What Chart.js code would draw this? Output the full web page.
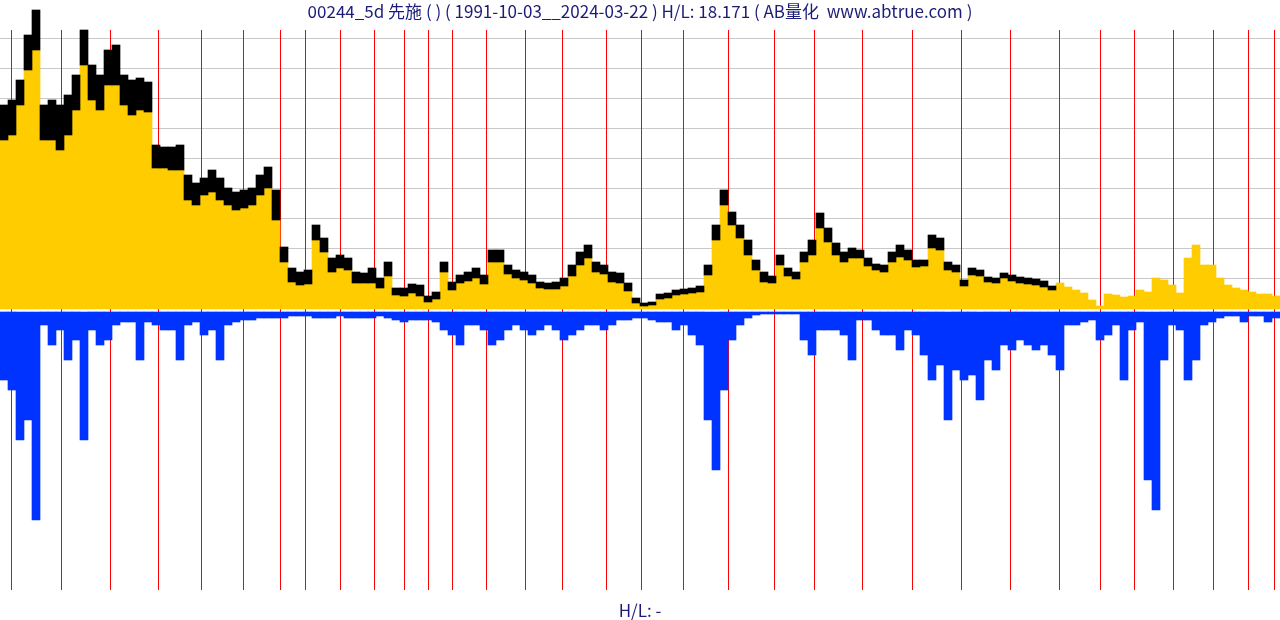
<!DOCTYPE html>
<html>
<head>
<meta charset="utf-8">
<script src="https://cdn.jsdelivr.net/npm/chart.js@4/dist/chart.umd.min.js"></script>
<style>
  html, body { margin: 0; padding: 0; background: #fff; }
  #wrap { position: relative; width: 1280px; height: 620px; overflow: hidden; }
  canvas { position: absolute; left: 0; top: 0; }
  .txt { position: absolute; left: 0; width: 1280px; text-align: center; color: #1c1c78;
         font-family: "Noto Sans CJK SC", "Noto Sans", sans-serif; font-size: 17px; white-space: pre; line-height: 20px; }
</style>
</head>
<body>
<div id="wrap">
  <canvas id="c" width="1280" height="620"></canvas>
  <div class="txt" id="title" style="top:1px;">00244_5d 先施 ( ) ( 1991-10-03__2024-03-22 ) H/L: 18.171 ( AB量化  www.abtrue.com )</div>
  <div class="txt" id="foot" style="top:600px;">H/L: -</div>
</div>
<script>
// ---- data ----
const priceFloor = 0.15;
const gridLevels = [0.46, 0.76, 1.06, 1.36, 1.66, 1.96, 2.26, 2.56, 2.86];
const yearLabels = ['1992','1993','1994','1995','1996','1997','1998','1999','2000','2001','2002','2003','2004','2005','2006','2007','2008','2009','2010','2011','2012','2013','2014','2015','2016','2017','2018','2019','2020','2021','2022','2023','2024'];
const yearStarts = [0.875,7.125,13.25,19.25,24.625,29.875,34.5,37.625,42,46.25,50,53,56,60.25,65.125,69.75,75.25,79.625,84.875,90.5,96.25,101.25,107.25,113.5,119.625,125.75,131.875,137,141.25,146.125,151.125,155.5,158.75];
// lower value of each bar (yellow top): the low where a range exists, the close otherwise
const lows = [
 1.84,1.89,2.19,2.54,2.74,1.84,1.84,1.74,1.89,2.14,
 2.59,2.24,2.14,2.39,2.39,2.19,2.09,2.14,2.12,1.56,
 1.56,1.54,1.54,1.24,1.19,1.29,1.32,1.24,1.19,1.14,
 1.16,1.19,1.29,1.36,1.04,0.62,0.42,0.39,0.40,0.84,
 0.72,0.52,0.56,0.54,0.41,0.41,0.41,0.36,0.48,0.29,
 0.28,0.31,0.28,0.22,0.25,0.52,0.34,0.41,0.43,0.46,
 0.40,0.62,0.62,0.50,0.46,0.44,0.41,0.36,0.35,0.35,
 0.38,0.48,0.59,0.66,0.52,0.50,0.42,0.41,0.33,0.21,
 0.18,0.19,0.25,0.26,0.29,0.30,0.31,0.32,0.49,0.84,
 1.19,0.99,0.86,0.69,0.54,0.42,0.41,0.59,0.48,0.45,
 0.62,0.69,0.96,0.82,0.69,0.62,0.66,0.66,0.58,0.54,
 0.52,0.62,0.67,0.64,0.57,0.58,0.76,0.74,0.54,0.52,
 0.38,0.49,0.48,0.42,0.41,0.46,0.43,0.41,0.40,0.39,
 0.37,0.34,0.41,0.37,0.34,0.31,0.24,0.18,0.30,0.29,
 0.27,0.28,0.34,0.32,0.46,0.44,0.39,0.31,0.66,0.79,
 0.59,0.59,0.46,0.39,0.36,0.34,0.32,0.30,0.30,0.28
];
// high of each bar (black range top); null where no range is shown
const highs = [
 2.19,2.24,2.44,2.89,3.14,2.19,2.24,2.19,2.29,2.49,
 2.94,2.59,2.49,2.74,2.79,2.49,2.44,2.46,2.42,1.79,
 1.77,1.77,1.79,1.49,1.41,1.46,1.54,1.46,1.36,1.32,
 1.34,1.36,1.49,1.57,1.34,0.77,0.56,0.52,0.54,0.99,
 0.86,0.66,0.69,0.66,0.52,0.51,0.56,0.46,0.62,0.36,
 0.36,0.40,0.39,0.28,0.32,0.62,0.42,0.49,0.52,0.56,
 0.49,0.74,0.74,0.59,0.54,0.52,0.49,0.42,0.41,0.42,
 0.46,0.59,0.72,0.79,0.62,0.59,0.52,0.51,0.41,0.26,
 0.21,0.22,0.30,0.31,0.34,0.35,0.36,0.38,0.59,0.99,
 1.34,1.12,0.99,0.84,0.64,0.52,0.48,0.69,0.56,0.52,
 0.72,0.84,1.11,0.96,0.81,0.72,0.76,0.74,0.66,0.60,
 0.59,0.72,0.79,0.74,0.64,0.64,0.89,0.86,0.62,0.59,
 0.44,0.56,0.54,0.47,0.46,0.51,0.49,0.47,0.46,0.45,
 0.43,0.38,null,null,null,null,null,null,null,null,
 null,null,null,null,null,null,null,null,null,null,
 null,null,null,null,null,null,null,null,null,null
];
// volume of each bar
const vols = [
 68,78,128,108,208,13,33,18,48,28,
 128,18,33,28,13,10,10,48,10,13,
 18,18,48,13,10,23,18,48,13,10,
 8,8,6,6,6,6,4,4,4,6,
 6,6,4,6,6,6,6,4,6,8,
 10,8,8,8,10,18,23,33,13,13,
 18,33,28,18,13,18,23,18,13,18,
 28,23,18,13,13,18,13,8,8,6,
 6,8,10,10,18,13,23,33,108,158,
 78,28,13,6,3,2,2,2,2,2,
 28,43,18,18,18,23,48,8,8,18,
 23,23,38,18,23,43,68,53,108,58,
 68,63,88,48,58,33,38,28,33,38,
 33,43,58,13,13,10,8,28,23,13,
 68,18,10,168,198,48,13,18,68,48,
 13,10,6,4,4,10,4,4,10,6
];
const labels = lows.map((_, i) => 'W' + (i + 1));

// ---- drawing ----
const backdrop = {
  id: 'backdrop',
  beforeDatasetsDraw(chart) {
    const ctx = chart.ctx, yP = chart.scales.yP, x = chart.scales.x;
    ctx.save();
    ctx.lineWidth = 1;
    ctx.strokeStyle = '#c8c8c8';
    gridLevels.forEach(v => {
      const py = Math.round(yP.getPixelForValue(v)) + 0.5;
      ctx.beginPath(); ctx.moveTo(0, py); ctx.lineTo(chart.width, py); ctx.stroke();
    });
    ctx.strokeStyle = '#ff0000';
    yearStarts.forEach(v => {
      const px = Math.round(x.getPixelForValue(v)) + 0.5;
      ctx.beginPath(); ctx.moveTo(px, 30); ctx.lineTo(px, 590); ctx.stroke();
    });
    ctx.restore();
  }
};

new Chart(document.getElementById('c'), {
  type: 'bar',
  data: {
    labels,
    datasets: [
      { label: 'range', data: lows.map((v, i) => highs[i] == null ? null : [v, highs[i]]),
        backgroundColor: '#000000', yAxisID: 'yP', order: 0 },
      { label: 'price', data: lows.map(v => [priceFloor, v]),
        backgroundColor: '#ffcc00', yAxisID: 'yP', order: 1 },
      { label: 'volume', data: vols,
        backgroundColor: '#0033ff', yAxisID: 'yV', order: 2 }
    ]
  },
  options: {
    responsive: false,
    animation: false,
    devicePixelRatio: 1,
    layout: { padding: 0 },
    datasets: { bar: { grouped: false, barPercentage: 1, categoryPercentage: 1, borderWidth: 0 } },
    plugins: { legend: { display: false }, tooltip: { enabled: false }, title: { display: false } },
    scales: {
      x: { type: 'category', display: false, offset: true },
      yP: { type: 'linear', display: false, min: -2.96, max: 3.24 },
      yV: { type: 'linear', display: false, reverse: true, min: -312, max: 308 }
    }
  },
  plugins: [backdrop]
});
</script>
</body>
</html>
